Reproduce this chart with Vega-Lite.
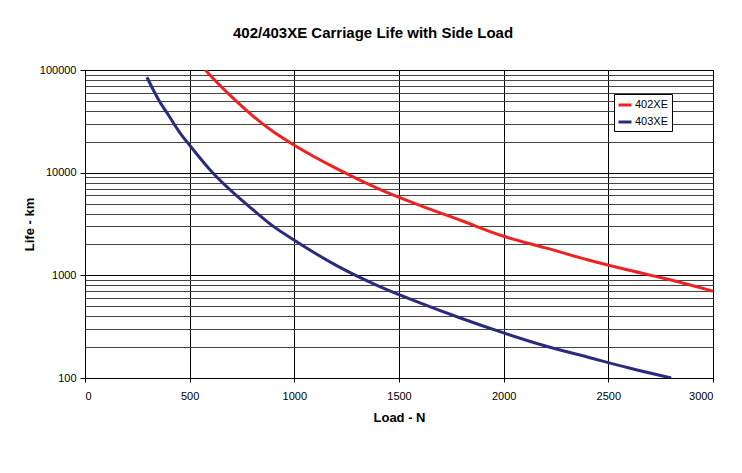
{
  "$schema": "https://vega.github.io/schema/vega-lite/v6.json",
  "width": 628,
  "height": 308,
  "autosize": {"type": "none"},
  "padding": {"left": 85, "top": 70, "right": 29, "bottom": 95},
  "background": "white",
  "title": {
    "text": "402/403XE Carriage Life with Side Load",
    "font": "Liberation Sans",
    "fontSize": 15,
    "fontWeight": "bold",
    "color": "black",
    "anchor": "middle",
    "dx": -26,
    "offset": 23
  },
  "data": {
    "values": [
      {"series": "402XE", "load": 575, "life": 100000},
      {"series": "402XE", "load": 600, "life": 88000},
      {"series": "402XE", "load": 700, "life": 55000},
      {"series": "402XE", "load": 800, "life": 36000},
      {"series": "402XE", "load": 900, "life": 25000},
      {"series": "402XE", "load": 1000, "life": 18500},
      {"series": "402XE", "load": 1200, "life": 11000},
      {"series": "402XE", "load": 1400, "life": 7000},
      {"series": "402XE", "load": 1600, "life": 4800},
      {"series": "402XE", "load": 1800, "life": 3400},
      {"series": "402XE", "load": 2000, "life": 2400},
      {"series": "402XE", "load": 2200, "life": 1850},
      {"series": "402XE", "load": 2400, "life": 1420},
      {"series": "402XE", "load": 2600, "life": 1120},
      {"series": "402XE", "load": 2800, "life": 900},
      {"series": "402XE", "load": 3000, "life": 700},
      {"series": "403XE", "load": 296, "life": 85000},
      {"series": "403XE", "load": 350, "life": 52000},
      {"series": "403XE", "load": 400, "life": 36000},
      {"series": "403XE", "load": 450, "life": 25000},
      {"series": "403XE", "load": 500, "life": 18500},
      {"series": "403XE", "load": 600, "life": 10500},
      {"series": "403XE", "load": 700, "life": 6600},
      {"series": "403XE", "load": 800, "life": 4400},
      {"series": "403XE", "load": 900, "life": 3000},
      {"series": "403XE", "load": 1000, "life": 2200},
      {"series": "403XE", "load": 1200, "life": 1250},
      {"series": "403XE", "load": 1400, "life": 790},
      {"series": "403XE", "load": 1600, "life": 540},
      {"series": "403XE", "load": 1800, "life": 380},
      {"series": "403XE", "load": 2000, "life": 275},
      {"series": "403XE", "load": 2200, "life": 205},
      {"series": "403XE", "load": 2400, "life": 160},
      {"series": "403XE", "load": 2600, "life": 125},
      {"series": "403XE", "load": 2800, "life": 100}
    ]
  },
  "mark": {"type": "line", "strokeWidth": 3, "interpolate": "monotone", "clip": true},
  "encoding": {
    "x": {
      "field": "load",
      "type": "quantitative",
      "scale": {"domain": [0, 3000], "nice": false, "zero": false},
      "axis": {
        "title": "Load - N",
        "values": [0, 500, 1000, 1500, 2000, 2500, 3000],
        "format": "d",
        "grid": true,
        "gridColor": "black",
        "gridOpacity": 1,
        "gridWidth": 1,
        "tickSize": 4,
        "labelPadding": 8,
        "titlePadding": 10
      }
    },
    "y": {
      "field": "life",
      "type": "quantitative",
      "scale": {"type": "log", "domain": [100, 100000], "nice": false},
      "axis": {
        "title": "Life - km",
        "values": [100, 200, 300, 400, 500, 600, 700, 800, 900, 1000, 2000, 3000, 4000, 5000, 6000, 7000, 8000, 9000, 10000, 20000, 30000, 40000, 50000, 60000, 70000, 80000, 90000, 100000],
        "labelExpr": "indexof([100,1000,10000,100000], datum.value) >= 0 ? datum.value : ''",
        "format": "d",
        "grid": true,
        "gridColor": {"condition": {"test": "indexof([100,1000,10000,100000], datum.value) >= 0", "value": "black"}, "value": "#444444"},
        "gridOpacity": 1,
        "gridWidth": 1,
        "tickSize": 5,
        "tickOpacity": {"condition": {"test": "indexof([100,1000,10000,100000], datum.value) >= 0", "value": 1}, "value": 0},
        "labelPadding": 4,
        "titlePadding": 3
      }
    },
    "color": {
      "field": "series",
      "type": "nominal",
      "scale": {"domain": ["402XE", "403XE"], "range": ["#ee2222", "#2b2b7d"]},
      "legend": {
        "title": null,
        "orient": "none",
        "legendX": 529,
        "legendY": 24,
        "symbolType": "stroke",
        "symbolStrokeWidth": 3,
        "symbolSize": 169,
        "labelFontSize": 11,
        "labelFont": "Liberation Sans",
        "labelColor": "black",
        "fillColor": "white",
        "strokeColor": "black",
        "padding": 3,
        "rowPadding": 3,
        "labelOffset": 2
      }
    }
  },
  "config": {
    "view": {"stroke": "black", "strokeWidth": 1},
    "axis": {
      "domainColor": "black",
      "tickColor": "black",
      "labelFont": "Liberation Sans",
      "labelFontSize": 11,
      "labelColor": "black",
      "titleFont": "Liberation Sans",
      "titleFontSize": 13,
      "titleFontWeight": "bold",
      "titleColor": "black"
    }
  }
}
